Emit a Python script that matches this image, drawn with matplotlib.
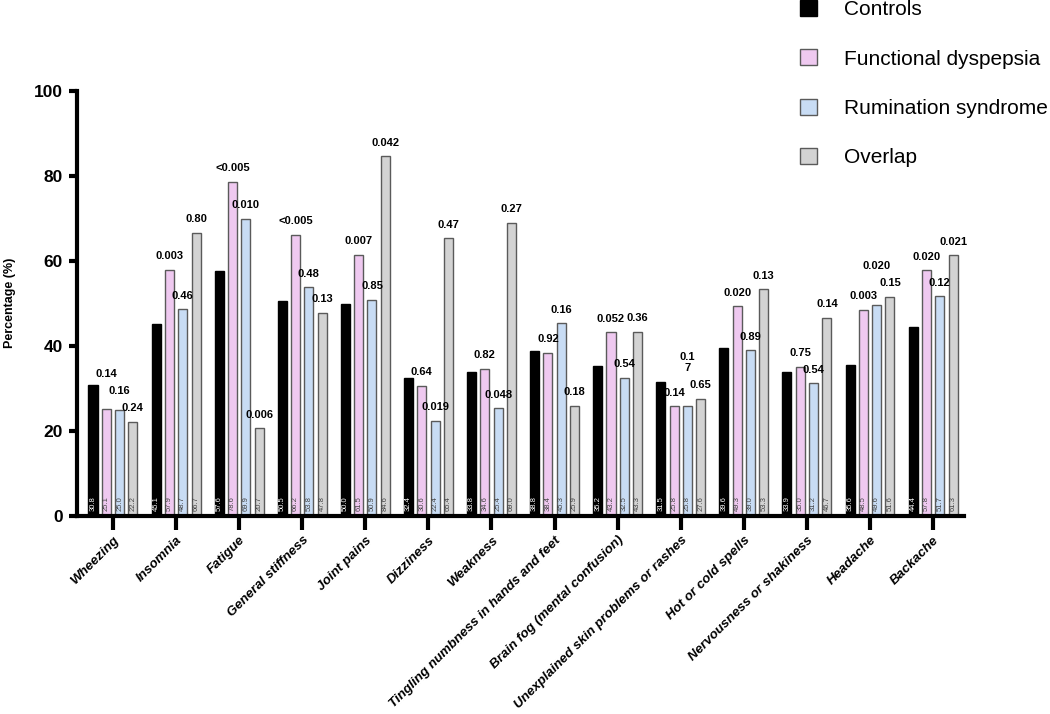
import matplotlib
matplotlib.use("Agg")
import matplotlib.pyplot as plt
from matplotlib.patches import Patch
import numpy as np

plt.rcParams['font.family'] = ['Liberation Sans', 'DejaVu Sans']

categories = ["Wheezing", "Insomnia", "Fatigue", "General stiffness", "Joint pains",
              "Dizziness", "Weakness", "Tingling numbness in hands and feet",
              "Brain fog (mental confusion)", "Unexplained skin problems or rashes",
              "Hot or cold spells", "Nervousness or shakiness", "Headache", "Backache"]
series_names = ["Controls", "Functional dyspepsia", "Rumination syndrome", "Overlap"]

controls = [30.8, 45.1, 57.6, 50.5, 50.0, 32.4, 33.8, 38.8, 35.2, 31.5, 39.6, 33.9, 35.6, 44.4]
functional_dyspepsia = [25.1, 57.9, 78.6, 66.2, 61.5, 30.6, 34.6, 38.4, 43.2, 25.8, 49.3, 35.0, 48.5, 57.8]
rumination_syndrome = [25.0, 48.7, 69.9, 53.8, 50.9, 22.4, 25.4, 45.3, 32.5, 25.8, 39.0, 31.2, 49.6, 51.7]
overlap = [22.2, 66.7, 20.7, 47.8, 84.6, 65.4, 69.0, 25.9, 43.3, 27.6, 53.3, 46.7, 51.6, 61.3]

p_fd = ["0.14", "0.003", "<0.005", "<0.005", "0.007", "0.64", "0.82", "0.92", "0.052", "0.14",
        "0.020", "0.75", "0.003", "0.020"]
p_rs = ["0.16", "0.46", "0.010", "0.48", "0.85", "0.019", "0.048", "0.16", "0.54", "0.1\n7",
        "0.89", "0.54", "0.020", "0.12"]
p_ov = ["0.24", "0.80", "0.006", "0.13", "0.042", "0.47", "0.27", "0.18", "0.36", "0.65",
        "0.13", "0.14", "0.15", "0.021"]

yticks = [0, 20, 40, 60, 80, 100]

series = [controls, functional_dyspepsia, rumination_syndrome, overlap]
pvals = [None, p_fd, p_rs, p_ov]
fills = ["#000000", "#EFC9F0", "#C8DCF4", "#D3D3D3"]
edges = ["#000000", "#5a5a5a", "#5a5a5a", "#5a5a5a"]
txtcol = ["white", "#444444", "#444444", "#444444"]

W, H = 1050, 714
fig = plt.figure(figsize=(W / 100, H / 100), dpi=100)
ax = fig.add_axes([77 / W, 1 - 516 / H, (964 - 77) / W, (516 - 91) / H])

x = np.arange(len(categories))
step = 0.211
bw = 0.143
offs = [-1.5, -0.5, 0.5, 1.5]

for k, vals in enumerate(series):
    xs = x + offs[k] * step
    ax.bar(xs, vals, width=bw, color=fills[k], edgecolor=edges[k], linewidth=1.0, zorder=2)
    for xi, v in zip(xs, vals):
        ax.text(xi, 1.2, f"{v:.1f}", rotation=90, ha="center", va="bottom",
                fontsize=5.5, color=txtcol[k], zorder=3)

# p-value annotations, staggered to avoid overlap
for i in range(len(categories)):
    prev_y = None
    ys = {}
    for k in [3, 2, 1]:
        y = series[k][i] + 2.0
        if prev_y is not None and abs(y - prev_y) < 4.0:
            y = prev_y + 4.0
        ys[k] = y
        prev_y = y
    for k in [1, 2, 3]:
        ax.text(x[i] + offs[k] * step, ys[k], pvals[k][i], ha="center", va="bottom",
                fontsize=8, fontweight="bold", color="black", zorder=4)

ax.set_xlim(-0.57, 13.49)
ax.set_ylim(0, 100)
ax.set_yticks(yticks)
ax.set_yticklabels([str(t) for t in yticks], fontsize=12.5, fontweight="bold")
ax.set_xticks(x)
ax.set_xticklabels(categories, rotation=45, ha="right", rotation_mode="anchor",
                   fontsize=9.6, fontweight="bold", fontstyle="italic")
ax.tick_params(axis="y", length=6, width=3, pad=4)
ax.tick_params(axis="x", length=10, width=3, pad=3)
for s in ["top", "right"]:
    ax.spines[s].set_visible(False)
for s in ["left", "bottom"]:
    ax.spines[s].set_linewidth(3)
    ax.spines[s].set_color("black")

fig.text(10 / W, 1 - 303 / H, "Percentage (%)", rotation=90, ha="center", va="center",
         fontsize=9, fontweight="bold")

handles = [Patch(facecolor=fills[k], edgecolor=edges[k], linewidth=1.0) for k in range(4)]
fig.legend(handles, series_names, loc="upper left", bbox_to_anchor=(800 / W, 1.0),
           frameon=False, fontsize=15, handlelength=0.8, handleheight=0.8,
           labelspacing=1.45, handletextpad=1.3, borderaxespad=0, borderpad=0)

fig.savefig("out.png", dpi=100)
